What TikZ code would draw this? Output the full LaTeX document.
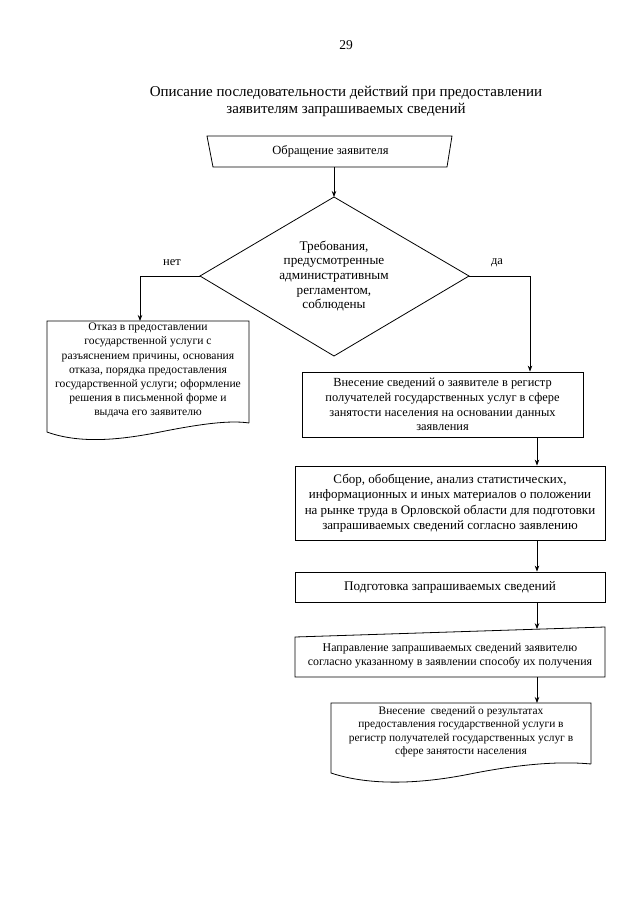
\documentclass[tikz,border=0pt]{standalone}
\usepackage{fontspec}
\setmainfont{Liberation Serif}
\usetikzlibrary{arrows.meta}
\begin{document}
\begin{tikzpicture}[x=1pt,y=-1pt,
  txt/.style={font=\fontsize{12.5}{14.6}\selectfont, align=center, inner sep=0pt},
  boxnode/.style={draw, line width=0.8pt, font=\fontsize{12.4}{14.8}\selectfont, align=center, inner sep=0pt},
  shp/.style={draw, line width=0.8pt},
  arr/.style={-{Stealth[length=6pt,width=4.5pt]}, line width=0.8pt},
  ln/.style={line width=0.8pt}]
\useasboundingbox (0,0) rectangle (639,905);
\fill[white] (0,0) rectangle (639,905);
% page number and title
\node[font=\fontsize{13.5}{15}\selectfont, inner sep=0pt] (pg) at (346,45) {29};
\node[font=\fontsize{15}{17.5}\selectfont, align=center, inner sep=0pt] (title) at (346,101.5)
  {Описание последовательности действий при предоставлении\\заявителям запрашиваемых сведений};
% start (trapezium)
\node[txt, minimum width=245pt, minimum height=31pt] (start) at (330.5,151.5) {Обращение заявителя};
\draw[shp] (207,136) -- (452,136) -- (447,167) -- (213,167) -- cycle;
% decision
\coordinate (dT) at (334,197);
\coordinate (dR) at (469,276);
\coordinate (dB) at (334,356);
\coordinate (dL) at (200,276);
\draw[shp] (dT) -- (dR) -- (dB) -- (dL) -- cycle;
\node[txt, font=\fontsize{13.2}{14.6}\selectfont] (dec) at (334,276) {Требования,\\предусмотренные\\административным\\регламентом,\\соблюдены};
\draw[arr] (start.south -| dT) -- (dT);
% no branch
\node[txt] (no) at (172,263) {нет};
\node[txt, font=\fontsize{11.6}{14.2}\selectfont] (refuse) at (148,370.5) {Отказ в предоставлении\\государственной услуги с\\разъяснением причины, основания\\отказа, порядка предоставления\\государственной услуги; оформление\\решения в письменной форме и\\выдача его заявителю};
\draw[shp] (249,423) -- (249,321) -- (47,321) -- (47,432)
  .. controls (80,444) and (120,440) .. (160,432)
  .. controls (200,424) and (230,420) .. (249,423);
\coordinate (nc) at (140,276);
\draw[arr] (dL) -- (nc) -- (nc |- 0,321);
% yes branch
\node[txt] (yes) at (497,263) {да};
\node[boxnode, minimum width=281pt, minimum height=65pt] (reg) at (442.5,404.5)
  {Внесение сведений о заявителе в регистр\\получателей государственных услуг в сфере\\занятости населения на основании данных\\заявления};
\coordinate (yc) at (530,276);
\draw[arr] (dR) -- (yc) -- (yc |- reg.north);
% box 2
\node[boxnode, minimum width=310pt, minimum height=74pt, font=\fontsize{13}{15.5}\selectfont] (collect) at (450,503)
  {Сбор, обобщение, анализ статистических,\\информационных и иных материалов о положении\\на рынке труда в Орловской области для подготовки\\запрашиваемых сведений согласно заявлению};
\coordinate (ax) at (537,0);
\draw[arr] (ax |- reg.south) -- (ax |- collect.north);
% box 3
\node[boxnode, minimum width=310pt, minimum height=30pt, font=\fontsize{13.2}{15}\selectfont] (prep) at (450,587) {Подготовка запрашиваемых сведений};
\draw[arr] (ax |- collect.south) -- (ax |- prep.north);
% box 4 (manual input)
\node[txt, font=\fontsize{11.9}{13.5}\selectfont] (send) at (450,655.5)
  {Направление запрашиваемых сведений заявителю\\согласно указанному в заявлении способу их получения};
\draw[shp] (295,637) -- (605,627) -- (605,677) -- (295,677) -- cycle;
\coordinate (sendtop) at (537,629.2);
\coordinate (sendbot) at (537,677);
\draw[arr] (ax |- prep.south) -- (sendtop);
% box 5 (document)
\node[txt, font=\fontsize{11.4}{13.4}\selectfont] (result) at (461,732)
  {Внесение\ \ сведений о результатах\\предоставления государственной услуги в\\регистр получателей государственных услуг в\\сфере занятости населения};
\draw[shp] (591,764) -- (591,703) -- (331,703) -- (331,773)
  .. controls (370,786) and (420,784) .. (470,774)
  .. controls (520,764) and (560,761) .. (591,764);
\coordinate (restop) at (537,703);
\draw[arr] (sendbot) -- (restop);
\end{tikzpicture}
\end{document}
